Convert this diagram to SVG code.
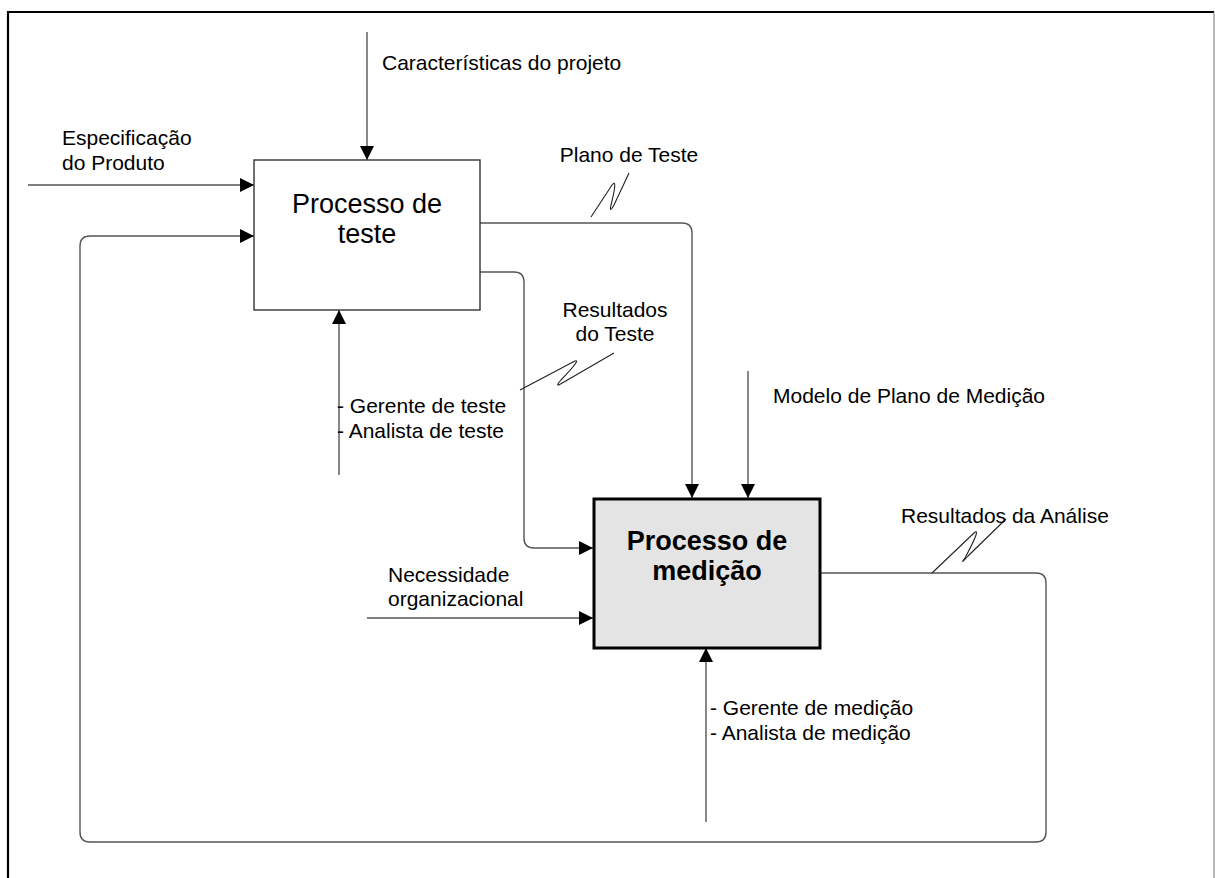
<svg xmlns="http://www.w3.org/2000/svg" width="1215" height="878" viewBox="0 0 1215 878">
  <style>
    .lbl { font-family: "Liberation Sans", Arial, sans-serif; font-size: 21px; fill: #000; }
    .big { font-family: "Liberation Sans", Arial, sans-serif; font-size: 27px; fill: #000; text-anchor: middle; }
    .bold { font-weight: bold; }
    .wire { fill: none; stroke: #555; stroke-width: 1.4; }
    .zig { fill: none; stroke: #222; stroke-width: 1.1; }
  </style>
  <defs>
    <marker id="arrow" viewBox="0 0 14 14" refX="14" refY="7" markerWidth="14" markerHeight="14" markerUnits="userSpaceOnUse" orient="auto">
      <path d="M0,0 L14,7 L0,14 Z" fill="#000"/>
    </marker>
  </defs>
  <rect width="1215" height="878" fill="#fff"/>

  <!-- frame -->
  <g id="frame">
    <line x1="8" y1="12" x2="1214" y2="12" stroke="#000" stroke-width="2.2"/>
    <line x1="8" y1="11" x2="8" y2="878" stroke="#000" stroke-width="2.2"/>
    <line x1="1214" y1="12" x2="1214" y2="878" stroke="#888" stroke-width="1.2"/>
  </g>

  <!-- connectors -->
  <g id="connectors">
    <path class="wire" d="M367,32 V160" marker-end="url(#arrow)"/>
    <path class="wire" d="M28,185 H254" stroke="#222" marker-end="url(#arrow)"/>
    <path class="wire" d="M820,573 H1036 Q1046,573 1046,583 V832 Q1046,842 1036,842 H90 Q80,842 80,832 V246 Q80,236 90,236 H254" marker-end="url(#arrow)"/>
    <path class="wire" d="M480,223 H682 Q692,223 692,233 V498" marker-end="url(#arrow)"/>
    <path class="wire" d="M480,272 H514 Q524,272 524,282 V538 Q524,548 534,548 H593" marker-end="url(#arrow)"/>
    <path class="wire" d="M339,475 V310" marker-end="url(#arrow)"/>
    <path class="wire" d="M748,371 V498" stroke="#222" marker-end="url(#arrow)"/>
    <path class="wire" d="M367,618 H593" stroke="#222" marker-end="url(#arrow)"/>
    <path class="wire" d="M706,822 V648" marker-end="url(#arrow)"/>

    <!-- squiggle leaders -->
    <path class="zig" d="M591,217 L612,185 Q618,177 611,205 Q609,214 614,205 L629,173"/>
    <path class="zig" d="M520,390 L573,362 Q584,356 561,380 Q553,389 564,382 L614,353"/>
    <path class="zig" d="M932,573 L974,533 Q982,526 965,558 Q959,566 968,556 L1006,519"/>
  </g>

  <!-- connector labels -->
  <g id="labels">
    <text class="lbl" x="382" y="70">Características do projeto</text>
    <text class="lbl" x="62" y="145">Especificação</text>
    <text class="lbl" x="62" y="170">do Produto</text>
    <text class="lbl" x="629" y="162" text-anchor="middle">Plano de Teste</text>
    <text class="lbl" x="615" y="317" text-anchor="middle">Resultados</text>
    <text class="lbl" x="615" y="341" text-anchor="middle">do Teste</text>
    <text class="lbl" x="337" y="413">- Gerente de teste</text>
    <text class="lbl" x="337" y="438">- Analista de teste</text>
    <text class="lbl" x="773" y="403">Modelo de Plano de Medição</text>
    <text class="lbl" x="901" y="523">Resultados da Análise</text>
    <text class="lbl" x="388" y="582">Necessidade</text>
    <text class="lbl" x="388" y="606">organizacional</text>
    <text class="lbl" x="710" y="715">- Gerente de medição</text>
    <text class="lbl" x="710" y="740">- Analista de medição</text>
  </g>

  <!-- nodes -->
  <g id="processo-teste">
    <rect x="254" y="160" width="226" height="150" fill="#fff" stroke="#333" stroke-width="1.4"/>
    <text class="big" x="367" y="213">Processo de</text>
    <text class="big" x="367" y="243">teste</text>
  </g>
  <g id="processo-medicao">
    <rect x="594" y="499" width="226" height="149" fill="#e4e4e4" stroke="#000" stroke-width="3"/>
    <text class="big bold" x="707" y="550">Processo de</text>
    <text class="big bold" x="707" y="580">medição</text>
  </g>
</svg>
